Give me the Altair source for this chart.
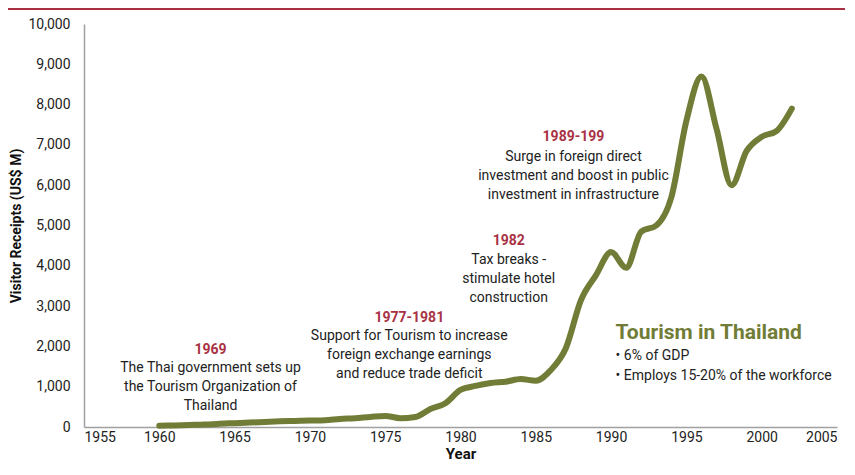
import altair as alt
import pandas as pd

years = list(range(1960, 2003))
receipts = [30, 40, 50, 60, 80, 95, 110, 125, 140, 150, 160, 170, 200, 220, 250,
            275, 220, 250, 445, 590, 920, 1020, 1090, 1125, 1190, 1150, 1415, 1960,
            3150, 3770, 4340, 3950, 4850, 5000, 5700, 7600, 8700, 7400, 6000, 6850,
            7200, 7350, 7900]

x_ticks = [1955, 1960, 1965, 1970, 1975, 1980, 1985, 1990, 1995, 2000, 2005]
y_ticks = list(range(0, 10001, 1000))

ann_heads = ["1969", "1977-1981", "1982", "1989-199"]
ann_bodies = [
    "The Thai government sets up\nthe Tourism Organization of\nThailand",
    "Support for Tourism to increase\nforeign exchange earnings\nand reduce trade deficit",
    "Tax breaks -\nstimulate hotel\nconstruction",
    "Surge in foreign direct\ninvestment and boost in public\ninvestment in infrastructure",
]
ann_x = [1963.4, 1976.6, 1983.2, 1987.5]
ann_head_y = [1910, 2705, 4615, 7196]
ann_body_y = [1464, 2258, 4144, 6700]

box_title = "Tourism in Thailand"
box_lines = ["• 6% of GDP", "• Employs 15-20% of the workforce"]
box_x = 1990.3
box_title_y = 2333
box_lines_y = [1762, 1265]

FONT = "Roboto, sans-serif"
GREEN = "#717c36"
RED = "#a83244"

df = pd.DataFrame({"Year": years, "Receipts": receipts})
ann = pd.DataFrame({"x": ann_x, "hy": ann_head_y, "by": ann_body_y,
                    "head": ann_heads, "body": ann_bodies})
box_t = pd.DataFrame({"x": [box_x], "y": [box_title_y], "t": [box_title]})
box_l = pd.DataFrame({"x": [box_x] * len(box_lines), "y": box_lines_y, "t": box_lines})

xscale = alt.Scale(domain=[1955, 2005], nice=False)
yscale = alt.Scale(domain=[0, 10000], nice=False)

line = alt.Chart(df).mark_line(
    color=GREEN, strokeWidth=6, interpolate="monotone", strokeCap="round"
).encode(
    x=alt.X("Year:Q", scale=xscale,
            axis=alt.Axis(values=x_ticks, format="d", title="Year",
                          labelPadding=3, titleY=31, titleBaseline="alphabetic")),
    y=alt.Y("Receipts:Q", scale=yscale,
            axis=alt.Axis(values=y_ticks, format=",d", title="Visitor Receipts (US$ M)",
                          labelPadding=14, titlePadding=4, titleFontSize=14)),
)

top_rule = alt.Chart(df).mark_rule(color=RED, strokeWidth=2).encode(
    x=alt.value(-76), x2=alt.value(761), y=alt.value(-15)
)

heads = alt.Chart(ann).mark_text(
    font=FONT, fontSize=14, fontWeight="bold", color=RED, align="center", baseline="middle"
).encode(x=alt.X("x:Q", scale=xscale), y=alt.Y("hy:Q", scale=yscale), text="head:N")

bodies = alt.Chart(ann).mark_text(
    font=FONT, fontSize=14, color="#222222", align="center", baseline="middle",
    lineBreak="\n", lineHeight=19
).encode(x=alt.X("x:Q", scale=xscale), y=alt.Y("by:Q", scale=yscale), text="body:N")

btitle = alt.Chart(box_t).mark_text(
    font=FONT, fontSize=21, fontWeight="bold", color=GREEN, align="left", baseline="middle"
).encode(x=alt.X("x:Q", scale=xscale), y=alt.Y("y:Q", scale=yscale), text="t:N")

blines = alt.Chart(box_l).mark_text(
    font=FONT, fontSize=14, color="#222222", align="left", baseline="middle"
).encode(x=alt.X("x:Q", scale=xscale), y=alt.Y("y:Q", scale=yscale), text="t:N")

chart = alt.layer(top_rule, line, heads, bodies, btitle, blines).properties(
    width=753, height=403,
    autosize=alt.AutoSizeParams(type="none"),
    padding={"left": 76, "top": 16, "right": 8, "bottom": 34},
).configure_view(stroke=None).configure_axis(
    grid=False, ticks=False, domainColor="#a0a0a0", domainWidth=1.5,
    labelFont=FONT, labelFontSize=14, labelColor="#222222",
    titleFont=FONT, titleFontSize=15, titleFontWeight="bold", titleColor="#111111",
)

chart.save("out.html", embed_options={"renderer": "svg", "actions": False})
